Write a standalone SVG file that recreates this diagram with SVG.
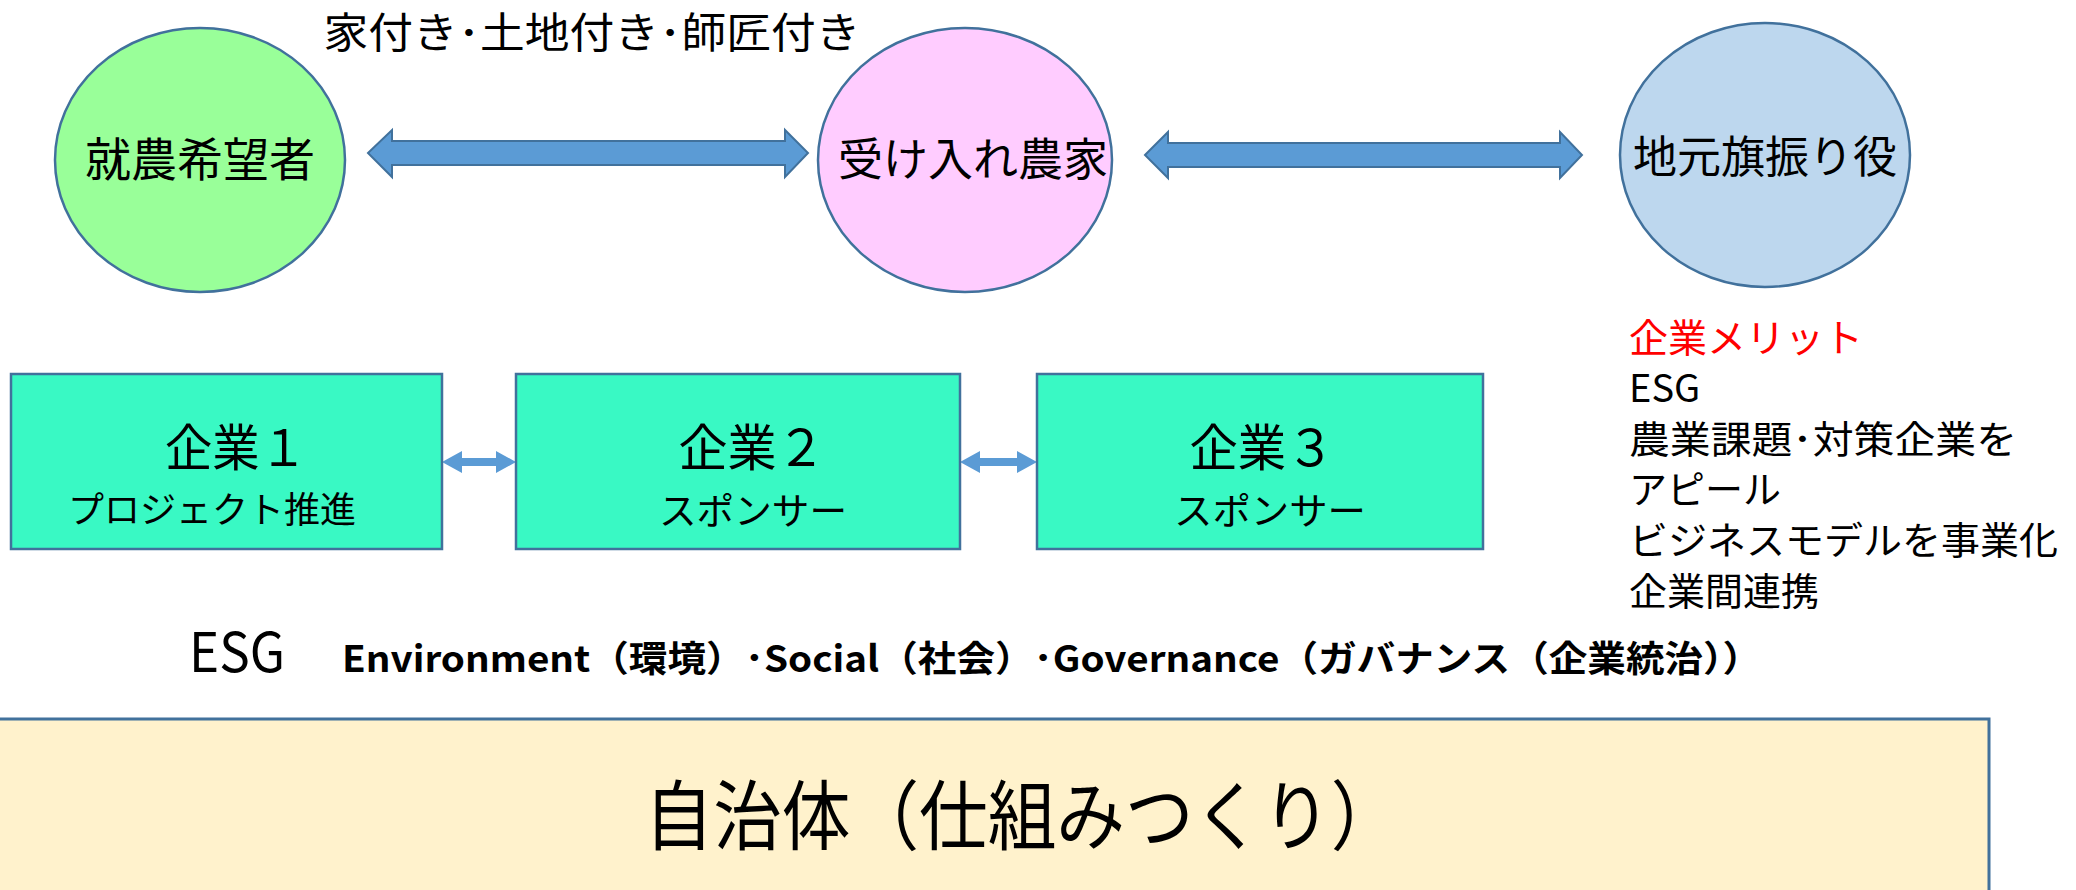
<svg xmlns="http://www.w3.org/2000/svg" width="2076" height="890" viewBox="0 0 2076 890">
<style>
text{font-family:"Noto Sans CJK JP","Noto Sans",sans-serif;fill:#000}
.ell{stroke:#41719C;stroke-width:2.5}
.box{fill:#39F9C4;stroke:#41719C;stroke-width:2.5}
.big{fill:#5B9BD5;stroke:#41719C;stroke-width:2}
.small{fill:#5B9BD5}
.c{text-anchor:middle}
</style>
<rect width="2076" height="890" fill="#fff"/>
<text x="592" y="48" class="c" font-size="42" textLength="537" lengthAdjust="spacingAndGlyphs">家付き･土地付き･師匠付き</text>
<g id="connectors">
<polygon class="big" points="368,153 392,130 392,141 785,141 785,130 808,153 785,177 785,165 392,165 392,177"/>
<polygon class="big" points="1145,155 1168,132 1168,143 1560,143 1560,132 1582,155 1560,178 1560,167 1168,167 1168,178"/>
<polygon class="small" points="442,462 462,451 462,458 496,458 496,451 516,462 496,473 496,466 462,466 462,473"/>
<polygon class="small" points="960,462 980,451 980,458 1017,458 1017,451 1037,462 1017,473 1017,466 980,466 980,473"/>
</g>
<g id="n1">
<ellipse class="ell" cx="200" cy="160" rx="145" ry="132" fill="#99FF99"/>
<text x="200" y="176" class="c" font-size="46">就農希望者</text>
</g>
<g id="n2">
<ellipse class="ell" cx="965" cy="160" rx="147" ry="132" fill="#FFCCFF"/>
<text x="973" y="176" class="c" font-size="45">受け入れ農家</text>
</g>
<g id="n3">
<ellipse class="ell" cx="1765" cy="155" rx="145" ry="132" fill="#BDD7EE"/>
<text x="1765" y="173" class="c" font-size="44">地元旗振り役</text>
</g>
<g id="c1">
<rect class="box" x="11" y="374" width="431" height="175"/>
<text x="236" y="466" class="c" font-size="50" textLength="142" lengthAdjust="spacingAndGlyphs">企業１</text>
<text x="212" y="523" class="c" font-size="36">プロジェクト推進</text>
</g>
<g id="c2">
<rect class="box" x="516" y="374" width="444" height="175"/>
<text x="752" y="466" class="c" font-size="50" textLength="147" lengthAdjust="spacingAndGlyphs">企業２</text>
<text x="753" y="525" class="c" font-size="37" textLength="188" lengthAdjust="spacingAndGlyphs">スポンサー</text>
</g>
<g id="c3">
<rect class="box" x="1037" y="374" width="446" height="175"/>
<text x="1262" y="466" class="c" font-size="50" textLength="145" lengthAdjust="spacingAndGlyphs">企業３</text>
<text x="1270" y="525" class="c" font-size="37" textLength="192" lengthAdjust="spacingAndGlyphs">スポンサー</text>
</g>
<g id="merit">
<text x="1629" y="352" font-size="39" style="fill:#FF0000">企業メリット</text>
<text x="1629" y="402" font-size="38">ESG</text>
<text x="1629" y="453" font-size="38" textLength="388" lengthAdjust="spacingAndGlyphs">農業課題･対策企業を</text>
<text x="1629" y="503" font-size="38">アピール</text>
<text x="1629" y="554" font-size="38" textLength="429" lengthAdjust="spacingAndGlyphs">ビジネスモデルを事業化</text>
<text x="1629" y="605" font-size="38">企業間連携</text>
</g>
<g id="esg">
<text x="189" y="672" font-size="54" textLength="96" lengthAdjust="spacingAndGlyphs">ESG</text>
<text x="342" y="672" font-size="36" font-weight="bold" textLength="1419" lengthAdjust="spacingAndGlyphs">Environment（環境）･Social（社会）･Governance（ガバナンス（企業統治））</text>
</g>
<g id="gov">
<rect x="-3" y="719" width="1992" height="200" fill="#FFF2CC" stroke="#41719C" stroke-width="3"/>
<text x="1022" y="844" class="c" font-size="76" textLength="755" lengthAdjust="spacingAndGlyphs">自治体（仕組みつくり）</text>
</g>
</svg>
